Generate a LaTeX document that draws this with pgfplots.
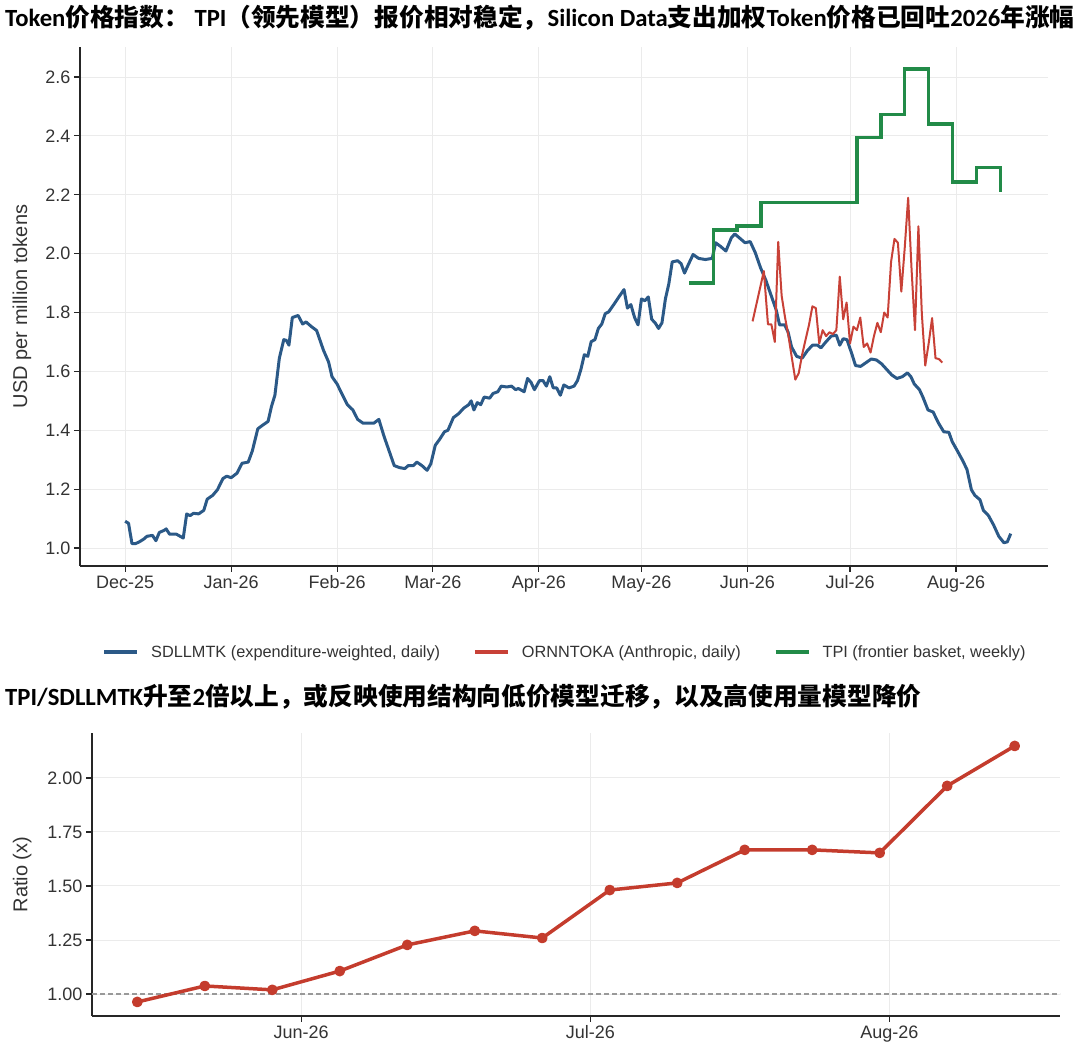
\documentclass[border=0pt]{standalone}
\usepackage{pgfplots}
\pgfplotsset{compat=1.18}
\usepackage{fontspec}
\setmainfont{Liberation Sans}
\newfontfamily\carlito{Carlito}
\newfontfamily\cjkfont{Noto Sans CJK SC}
\newcommand{\lat}[1]{{\carlito\bfseries #1}}
\newcommand{\zh}[1]{{\cjkfont\bfseries #1}}
\definecolor{cblue}{RGB}{43,89,135}
\definecolor{cred}{RGB}{200,65,55}
\definecolor{cgreen}{RGB}{34,139,72}
\definecolor{cred2}{RGB}{196,60,45}
\definecolor{txt}{RGB}{51,51,51}
\definecolor{gridc}{RGB}{235,235,235}
\begin{document}
\begin{tikzpicture}[x=1pt,y=1pt]
\path[use as bounding box] (0pt,0pt) rectangle (1080pt,1063pt);
\pgfplotsset{
  myax/.style={
    scale only axis,
    axis lines=left,
    axis line style={-, line width=1.4pt, color=black!85},
    tick align=outside,
    major tick length=6pt,
    tick style={line width=1.2pt, color=black!85},
    grid=major,
    grid style={line width=0.9pt, color=gridc},
    tick label style={font=\fontsize{18}{20}\selectfont, color=txt},
    label style={font=\fontsize{20}{22}\selectfont, color=txt},
    /pgf/number format/assume math mode=true,
    clip=false,
  }
}
% Titles
\node[anchor=west, inner sep=0pt, text=black] at (5pt,1045pt) {\fontsize{24.7}{28}\selectfont \lat{Token}\zh{价格指数：}\lat{ TPI}\zh{（领先模型）报价相对稳定，}\lat{Silicon Data}\zh{支出加权}\lat{Token}\zh{价格已回吐}\lat{2026}\zh{年涨幅}};
\node[anchor=west, inner sep=0pt, text=black] at (5pt,366pt) {\fontsize{24.7}{28}\selectfont \lat{TPI/SDLLMTK}\zh{升至}\lat{2}\zh{倍以上，或反映使用结构向低价模型迁移，以及高使用量模型降价}};

\begin{axis}[myax,
  at={(80pt,497pt)}, anchor=south west,
  width=968pt, height=519pt,
  xmin=-13.2, xmax=269.9, ymin=0.939, ymax=2.702,
  xtick={0,31,62,90,121,151,182,212,243},
  xticklabels={Dec-25,Jan-26,Feb-26,Mar-26,Apr-26,May-26,Jun-26,Jul-26,Aug-26},
  ytick={1.0,1.2,1.4,1.6,1.8,2.0,2.2,2.4,2.6},
  yticklabel style={/pgf/number format/fixed,/pgf/number format/fixed zerofill,/pgf/number format/precision=1},
  ylabel={USD per million tokens},
  ylabel style={at={(axis description cs:-0.060,0.5)}, anchor=center},
  legend columns=3,
  legend style={at={(0.501,-0.166)}, anchor=center, draw=none, fill=none,
    font=\fontsize{16.3}{18}\selectfont, text=txt,
    /tikz/every even column/.append style={column sep=31pt}},
  legend image code/.code={\draw[#1, line width=3.5pt] (0pt,0pt) -- (33pt,0pt); \path[draw=none,fill=none] (0pt,0pt) rectangle (45pt,0.1pt);},
]
\addplot[cblue, line width=3pt, line join=round] coordinates {
(0,1.091)(1,1.084)(2,1.015)(3,1.015)(4,1.02)(5.4,1.03)(6.4,1.04)(8,1.043)(9,1.025)(10,1.053)
(11.4,1.06)(12,1.065)(13,1.047)(15,1.047)(17,1.034)(18,1.116)(19,1.11)(20,1.118)(21.5,1.116)(23,1.128)
(24,1.166)(25.6,1.179)(27,1.198)(28.6,1.236)(29.7,1.244)(31,1.239)(32.7,1.254)(34.2,1.288)(36,1.292)(37.2,1.33)
(38.8,1.405)(40.3,1.418)(41.8,1.43)(42.8,1.481)(43.8,1.519)(45.1,1.645)(46.4,1.708)(47.2,1.705)(47.9,1.689)(48.9,1.783)
(50.6,1.79)(51.9,1.761)(52.9,1.768)(54.5,1.752)(56,1.739)(58,1.672)(59.5,1.632)(60.5,1.582)(62,1.557)(63.6,1.519)
(65,1.487)(66.6,1.469)(68,1.437)(69.6,1.424)(71,1.424)(72.7,1.424)(74.2,1.437)(75.7,1.38)(77.2,1.33)(78.7,1.28)
(80.3,1.273)(81.8,1.27)(82.8,1.28)(84.3,1.28)(85.3,1.292)(86.8,1.28)(88.3,1.264)(89.4,1.286)(90.7,1.349)(91.9,1.368)
(93.4,1.395)(94.4,1.4)(96,1.443)(97.5,1.456)(99,1.475)(100.5,1.487)(101.2,1.5)(102,1.469)(103,1.494)(104,1.487)
(105,1.513)(106.6,1.509)(107.6,1.525)(109,1.531)(110,1.55)(111.6,1.547)(113,1.55)(114.2,1.538)(115,1.542)(116.7,1.531)
(117.7,1.576)(118.7,1.563)(119.7,1.538)(121.2,1.569)(122.2,1.569)(123.2,1.55)(124.2,1.582)(125.2,1.544)(126.2,1.544)(127.3,1.519)
(128.3,1.554)(129.8,1.544)(131.3,1.55)(132.3,1.569)(133.3,1.607)(134.3,1.657)(135.3,1.651)(136.3,1.701)(137.4,1.708)(138.4,1.746)
(139.4,1.761)(140.4,1.796)(141.4,1.802)(142.9,1.827)(144.4,1.853)(145.9,1.878)(146.9,1.815)(147.9,1.827)(149,1.783)(150,1.758)
(151,1.846)(152,1.84)(153,1.853)(154,1.777)(155,1.765)(156,1.746)(157,1.765)(158,1.846)(159,1.897)(160,1.972)
(161.6,1.976)(162.6,1.966)(163.6,1.934)(164.6,1.96)(166.1,1.997)(167.7,1.984)(169.7,1.98)(171.7,1.984)(172.7,2.037)(174.2,2.024)
(175.7,2.009)(177.3,2.054)(178.3,2.067)(180,2.05)(181.3,2.037)(182.8,2.041)(184.3,2.003)(185.8,1.953)(187.4,1.909)(188.9,1.859)
(190.4,1.809)(191.4,1.758)(192.9,1.758)(193.9,1.733)(194.9,1.683)(196.4,1.651)(198,1.645)(199.5,1.67)(201,1.689)(202.5,1.689)
(203.5,1.68)(205,1.701)(206.5,1.72)(208,1.723)(209,1.689)(210,1.711)(211.1,1.708)(212.6,1.657)(213.6,1.62)(215.1,1.617)
(216.7,1.63)(218.2,1.642)(219.7,1.639)(221.2,1.626)(222.7,1.607)(224.2,1.588)(225.7,1.576)(227.3,1.582)(228.8,1.595)(229.8,1.582)
(230.8,1.557)(232.3,1.538)(233.3,1.513)(234.8,1.469)(236.3,1.462)(237.9,1.424)(239.4,1.395)(240.9,1.393)(241.9,1.361)(243.4,1.33)
(244.9,1.298)(246.2,1.267)(247.5,1.198)(248.5,1.179)(250,1.164)(251,1.128)(252.5,1.11)(254,1.078)(255.5,1.04)(257,1.018)
(258,1.021)(259,1.049)
};
\addlegendentry{SDLLMTK (expenditure-weighted, daily)}
\addplot[cred, line width=2pt, line join=round] coordinates {
(183.5,1.77)(186.8,1.941)(188,1.76)(189,1.76)(190,1.70)(191,2.04)(192,1.857)(193,1.783)(194,1.72)(195,1.645)
(196,1.572)(197,1.594)(198,1.657)(199,1.708)(200,1.758)(201,1.821)(202,1.815)(203,1.695)(204,1.74)(205,1.72)
(206,1.733)(207,1.727)(208,1.74)(209,1.922)(210,1.777)(211,1.834)(212,1.695)(213,1.752)(214,1.74)(215,1.783)
(216,1.683)(217,1.695)(218,1.664)(219,1.72)(220,1.765)(221,1.733)(222,1.80)(223,1.783)(224,1.972)(225,2.05)
(226,2.037)(227,1.871)(228,2.02)(229,2.19)(230,1.946)(231,1.74)(232,2.093)(233,1.796)(234,1.62)(235,1.695)
(236,1.781)(237,1.645)(238,1.642)(239,1.63)
};
\addlegendentry{ORNNTOKA (Anthropic, daily)}
\addplot[cgreen, line width=3.5pt, const plot mark left, line join=miter] coordinates {
(165,1.90)(172,2.08)(179,2.094)(186,2.174)(193,2.174)(200,2.174)(207,2.174)(214,2.394)(221,2.473)(228,2.627)
(235,2.44)(242,2.243)(249,2.293)(256,2.208)
};
\addlegendentry{TPI (frontier basket, weekly)}
\end{axis}

\begin{axis}[myax,
  at={(92pt,47pt)}, anchor=south west,
  width=968pt, height=283pt,
  xmin=160.3, xmax=260.7, ymin=0.898, ymax=2.208,
  xtick={182,212,243},
  xticklabels={Jun-26,Jul-26,Aug-26},
  ytick={1.0,1.25,1.5,1.75,2.0},
  yticklabel style={/pgf/number format/fixed,/pgf/number format/fixed zerofill,/pgf/number format/precision=2},
  ylabel={Ratio (x)},
  ylabel style={at={(axis description cs:-0.072,0.5)}, anchor=center},
]
\addplot[gray!80, line width=1.3pt, dash pattern=on 5pt off 3pt] coordinates {(160.3,1.0)(260.7,1.0)};
\addplot[cred2, line width=3.5pt, line join=round, mark=*, mark size=3.6pt, mark options={solid}] coordinates {
(165,0.963)(172,1.037)(179,1.019)(186,1.106)(193,1.227)(200,1.292)(207,1.259)(214,1.481)(221,1.514)(228,1.667)
(235,1.667)(242,1.653)(249,1.963)(256,2.148)
};
\end{axis}
\end{tikzpicture}
\end{document}
